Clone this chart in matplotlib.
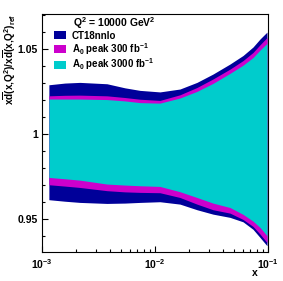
import matplotlib
matplotlib.use('Agg')
from matplotlib import pyplot as plt
from matplotlib.patches import Rectangle
import numpy as np

# =================================
# PDF ratio bands
# =================================
x = [1.153e-3, 1.597e-3, 2.168e-3, 3.760e-3, 5.425e-3, 7.366e-3, 0.01107, 0.01664,
     0.02353, 0.03261, 0.04610, 0.06009, 0.07367, 0.08495, 0.09800]

ct18_up = [1.0290, 1.0300, 1.0304, 1.0296, 1.0272, 1.0257, 1.0248, 1.0265,
           1.0304, 1.0353, 1.0412, 1.0462, 1.0512, 1.0559, 1.0600]
ct18_lo = [0.9614, 0.9605, 0.9598, 0.9592, 0.9594, 0.9598, 0.9602, 0.9588,
           0.9555, 0.9529, 0.9510, 0.9484, 0.9440, 0.9392, 0.9343]
a0_300_up = [1.0225, 1.0228, 1.0229, 1.0225, 1.0215, 1.0205, 1.0198, 1.0231,
             1.0274, 1.0324, 1.0382, 1.0432, 1.0480, 1.0525, 1.0568]
a0_300_lo = [0.9702, 0.9694, 0.9686, 0.9667, 0.9660, 0.9657, 0.9655, 0.9627,
             0.9588, 0.9555, 0.9535, 0.9498, 0.9457, 0.9412, 0.9362]
a0_3000_up = [1.0206, 1.0206, 1.0206, 1.0203, 1.0195, 1.0185, 1.0182, 1.0212,
              1.0251, 1.0298, 1.0357, 1.0405, 1.0450, 1.0494, 1.0533]
a0_3000_lo = [0.9745, 0.9737, 0.9729, 0.9706, 0.9700, 0.9696, 0.9692, 0.9661,
              0.9627, 0.9594, 0.9568, 0.9528, 0.9488, 0.9451, 0.9402]

band_labels = ['CT18nnlo', r'A$_0$ peak 300 fb$^{-1}$', r'A$_0$ peak 3000 fb$^{-1}$']
band_colors = ['#000099', '#cc00cc', '#00cccc']

ytick_vals = [0.95, 1.0, 1.05]
ytick_labels = ['0.95', '1', '1.05']

plt.rcParams['font.family'] = 'Liberation Sans'
plt.rcParams['font.weight'] = 'bold'
plt.rcParams['font.size'] = 7.5
plt.rcParams['mathtext.fontset'] = 'custom'
plt.rcParams['mathtext.rm'] = 'Liberation Sans:bold'
plt.rcParams['mathtext.it'] = 'Liberation Sans:bold'
plt.rcParams['mathtext.bf'] = 'Liberation Sans:bold'
plt.rcParams['mathtext.default'] = 'bf'

fig = plt.figure(figsize=(2.83, 2.81), dpi=100)
ax = fig.add_axes([0.148, 0.103, 0.799, 0.847])

bands = [(ct18_lo, ct18_up), (a0_300_lo, a0_300_up), (a0_3000_lo, a0_3000_up)]
for (lo, up), col in zip(bands, band_colors):
    ax.fill_between(x, lo, up, color=col, linewidth=0)

ax.set_xscale('log')
ax.set_xlim(1e-3, 1e-1)
ax.set_ylim(0.9306, 1.0706)
ax.set_axisbelow(True)

ax.set_yticks(ytick_vals)
ax.set_yticklabels(ytick_labels)
ax.set_yticks(np.arange(0.94, 1.07, 0.01), minor=True)
ax.tick_params(which='both', direction='in', top=False, right=False, pad=3)
ax.tick_params(which='major', length=4.5, width=0.8)
ax.tick_params(which='minor', length=2.5, width=0.8)
ax.tick_params(axis='x', pad=4)
for sp in ax.spines.values():
    sp.set_linewidth(0.8)

# legend, drawn by hand in axes fraction
ax.text(0.136, 0.945, r'Q$^2$ = 10000 GeV$^2$', transform=ax.transAxes,
        ha='left', va='baseline')
row_base = [0.896, 0.836, 0.772]
for lab, col, yb in zip(band_labels, band_colors, row_base):
    ax.add_patch(Rectangle((0.053, yb - 0.0015), 0.053, 0.0336, transform=ax.transAxes,
                           facecolor=col, edgecolor='none', clip_on=False))
    ax.text(0.132, yb, lab, transform=ax.transAxes, ha='left', va='baseline',
            fontsize=7.0)

# axis titles
fig.text(0.036, 0.95, r'x$\overline{d}$(x,Q$^2$)/x$\overline{d}$(x,Q$^2$)$_{ref}$',
         rotation=90, ha='center', va='top', fontsize=7.2)
fig.text(255 / 283, 1 - 273 / 281, 'x', ha='center', va='center')

fig.savefig('out.png', dpi=100)
